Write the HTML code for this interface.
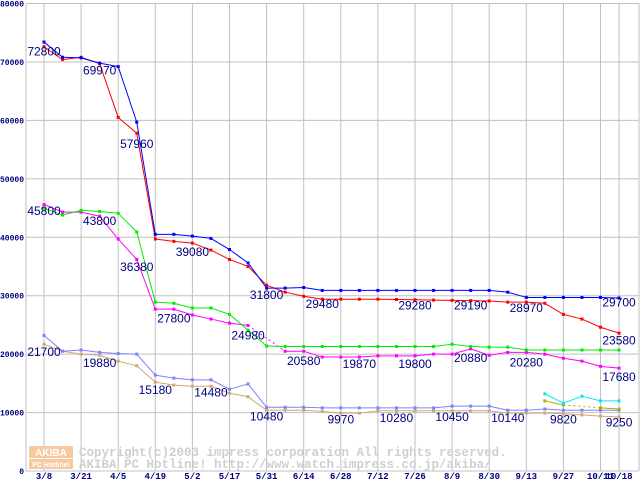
<!DOCTYPE html>
<html><head><meta charset="utf-8"><style>
html,body{margin:0;padding:0;background:#fff;}
svg{display:block;}
</style></head><body>
<svg id="chart" width="640" height="480" xmlns="http://www.w3.org/2000/svg">
<g id="grid"></g>
<g id="wm">
  <rect x="29" y="446" width="44" height="12" fill="#f8c8a0"/>
  <rect x="29" y="459" width="44" height="10" fill="#f8c8a0"/>
  <text x="51" y="456" font-family="Liberation Sans, sans-serif" font-size="10" font-weight="bold" fill="#fff" text-anchor="middle">AKIBA</text>
  <text x="51" y="467" font-family="Liberation Sans, sans-serif" font-size="7" font-weight="bold" fill="#fff" text-anchor="middle">PC Hotline!</text>
  <text x="79" y="456" font-family="Liberation Mono, monospace" font-size="12.5" font-weight="bold" fill="#cfcfcf">Copyright(c)2003 impress corporation All rights reserved.</text>
  <text x="79" y="468" font-family="Liberation Mono, monospace" font-size="12.5" font-weight="bold" fill="#cfcfcf">AKIBA PC Hotline!  http://www.watch.impress.co.jp/akiba/</text>
</g>
<g id="series"></g>
<g id="labels"></g>
</svg>
<script>
const xLabels = ["3/8","3/21","4/5","4/19","5/2","5/17","5/31","6/14","6/28","7/12","7/26","8/9","8/30","9/13","9/27","10/11","10/18"];
const xLabelIdx = [0,2,4,6,8,10,12,14,16,18,20,22,24,26,28,30,31];
const yTicks = [0,10000,20000,30000,40000,50000,60000,70000,80000];
const seriesBlue = [73400,70800,70700,69800,69200,59700,40500,40500,40200,39800,37900,35600,31300,31300,31400,30900,30900,30900,30900,30900,30900,30900,30900,30900,30900,30600,29700,29700,29700,29700,29700,29600];
const seriesRed = [72600,70400,70800,69700,60500,57800,39700,39300,39000,37800,36200,35000,31800,30600,29900,29400,29400,29400,29400,29350,29300,29250,29200,29150,29100,28900,28900,28700,26800,26000,24600,23600];
const seriesGreen = [45000,43800,44600,44400,44100,40900,28900,28700,27900,27900,26800,24100,21400,21300,21300,21300,21300,21300,21300,21300,21300,21300,21700,21300,21200,21200,20700,20700,20700,20700,20700,20700];
const seriesMagenta = [45600,44300,44300,43600,39700,36200,27700,27700,26700,26000,25300,24900,null,20500,20500,19500,19500,19500,19700,19700,19700,20000,20000,20900,19800,20300,20300,20000,19300,18800,17900,17600];
const seriesLavender = [23200,20500,20700,20300,20100,20000,16400,15900,15600,15600,14000,14900,10900,10900,10900,10800,10800,10800,10800,10800,10800,10800,11100,11100,11100,10400,10400,10600,10400,10400,10400,10400];
const seriesTan = [21700,20500,20000,19800,18800,18000,15200,14700,14500,14500,13300,12700,10400,10400,10400,10200,9900,9900,10300,10300,10300,10300,10300,10300,10300,9900,9900,9900,9800,9600,9400,9250];
const seriesCyan = [null,null,null,null,null,null,null,null,null,null,null,null,null,null,null,null,null,null,null,null,null,null,null,null,null,null,null,13200,11600,12800,12000,12000];
const seriesOlive = [null,null,null,null,null,null,null,null,null,null,null,null,null,null,null,null,null,null,null,null,null,null,null,null,null,null,null,12000,11300,null,10800,10600];
const labelText = ["72800","69970","57960","45800","43800","36380","21700","19880","15180","39080","27800","24980","31800","29480","20580","19870","14480","10480","9970","10280","10450","10140","9820","9250","29280","29190","28970","29700","23580","19800","20880","20280","17680"];
const labelIdx = [0,3,5,0,3,5,0,3,6,8,7,11,12,15,14,17,9,12,16,19,22,25,28,31,20,23,26,31,31,20,23,26,31];
const labelVal = [71800,68500,56000,44500,42800,34900,20400,18500,13900,37500,26100,23200,30100,28600,18800,18300,13400,9300,8800,9100,9200,9100,8800,8300,28300,28300,27900,28800,22300,18300,19300,18600,16100];

const NS = "http://www.w3.org/2000/svg";
const X0 = 44, DX = 18.55, Y0 = 471, YTOP = 3.5, YMAX = 80000;
const xs = i => X0 + i * DX;
const ys = v => Y0 - (v / YMAX) * (Y0 - YTOP);
function mk(tag, attrs, parent){ const e = document.createElementNS(NS, tag); for (const k in attrs) e.setAttribute(k, attrs[k]); parent.appendChild(e); return e; }

const grid = document.getElementById('grid');
mk('rect',{x:0,y:0,width:640,height:480,fill:'#fff'},grid);
yTicks.forEach(v => {
  const l = mk('line',{x1:26,x2:639,y1:ys(v),y2:ys(v),stroke:'#c0c0c0','stroke-width':1},grid);
  
  
  const t = mk('text',{x:24,y:ys(v)+3,'text-anchor':'end','font-family':'Liberation Mono, monospace','font-size':8,'font-weight':'bold',fill:'#000080'},grid);
  t.textContent = String(v);
  
  
});
mk('line',{x1:26,x2:26,y1:ys(YMAX),y2:Y0,stroke:'#c0c0c0'},grid);
mk('line',{x1:639,x2:639,y1:ys(YMAX),y2:Y0,stroke:'#c0c0c0'},grid);
xLabels.forEach((lab, k) => {
  const x = xs(xLabelIdx[k]);
  const l = mk('line',{x1:x,x2:x,y1:ys(YMAX),y2:Y0,stroke:'#c0c0c0'},grid);
  
  
  const t = mk('text',{x:x,y:479,'text-anchor':'middle','font-family':'Liberation Mono, monospace','font-size':9,'font-weight':'bold',fill:'#000080'},grid);
  t.textContent = lab;
  
  
});

const sg = document.getElementById('series');
function drawSeries(data, color, name){
  const g = mk('g',{},sg);
  
  
  for (let i = 0; i < data.length - 1; i++) {
    if (data[i] == null) continue;
    if (data[i+1] != null) {
      mk('line',{x1:xs(i),y1:ys(data[i]),x2:xs(i+1),y2:ys(data[i+1]),stroke:color,'stroke-width':1},g);
    } else if (i + 2 < data.length && data[i+2] != null) {
      mk('line',{x1:xs(i),y1:ys(data[i]),x2:xs(i+2),y2:ys(data[i+2]),stroke:color,'stroke-width':1,'stroke-dasharray':'2,3'},g);
    }
  }
  data.forEach((v, i) => {
    if (v == null) return;
    const p = mk('rect',{x:xs(i)-1.5,y:ys(v)-1.5,width:3,height:3,fill:color},g);
    
    
  });
}
drawSeries(seriesTan,'#d0a878','series-tan');
drawSeries(seriesLavender,'#8080ff','series-lavender');
drawSeries(seriesOlive,'#b0b000','series-olive');
drawSeries(seriesCyan,'#00e8f8','series-cyan');
drawSeries(seriesMagenta,'#ff00ff','series-magenta');
drawSeries(seriesGreen,'#00ee00','series-green');
drawSeries(seriesRed,'#ff0000','series-red');
drawSeries(seriesBlue,'#0000ff','series-blue');

const lg = document.getElementById('labels');
labelText.forEach((s, k) => {
  const t = mk('text',{x:xs(labelIdx[k]),y:ys(labelVal[k])+4,'text-anchor':'middle','font-family':'Liberation Sans, sans-serif','font-size':12,fill:'#000080'},lg);
  t.textContent = s;
  
  
});
</script>
</body></html>
